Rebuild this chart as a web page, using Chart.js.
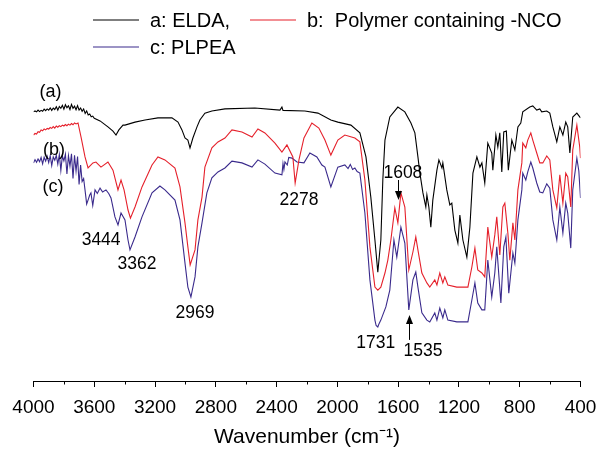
<!DOCTYPE html>
<html><head><meta charset="utf-8">
<script src="https://cdn.jsdelivr.net/npm/chart.js@4/dist/chart.umd.min.js"></script>
<style>html,body{margin:0;padding:0;background:#fff;}</style>
</head><body>
<canvas id="c" width="599" height="453"></canvas>
<script>
// ---- data (wavenumber cm-1, offset transmittance a.u.) ----
const waveA = [4000,3990,3980,3970,3960,3950,3940,3930,3920,3910,3900,3890,3880,3870,3860,3850,3840,3830,3820,3810,3800,3790,3780,3770,3760,3750,3740,3730,3720,3710,3700,3690,3680,3670,3660,3650,3640,3630,3620,3610,3600,
3562,3510,3477,3457,3438,3411,3398,3332,3266,3181,3089,3049,3023,3003,2984,2970,2951,2924,2905,2872,2826,2740,2543,2378,2365,2358,2214,2128,2043,1997,1911,1852,1812,1780,1753,1734,1714,1701,1687,1655,1602,1556,1516,1490,1470,1457,1437,1418,1411,1398,1385,1372,1345,1332,1312,1306,1280,1260,1247,1227,1207,1194,1174,1148,1128,1108,1082,1062,1049,1030,1010,984,977,957,944,931,918,905,888,875,852,832,812,793,780,734,714,688,668,655,622,602,582,556,536,516,497,484,470,451,424,400];
const transA = [89.7,90.0,89.7,90.3,89.8,90.2,89.9,90.6,90.1,90.7,90.3,91.0,90.2,91.0,90.5,91.4,90.3,91.5,90.9,91.9,90.6,92.1,91.1,91.7,90.5,92.2,90.9,91.6,90.4,91.8,90.3,91.0,89.9,90.7,89.2,90.0,88.7,89.0,88.1,88.3,87.6,
86.7,84.7,83.3,82.0,83.7,85.3,85.3,86.3,87.0,87.7,87.7,86.3,83.7,81.0,80.3,77.7,81.0,84.7,87.0,89.3,90.0,90.7,91.0,90.3,91.3,90.2,90.0,89.3,87.0,86.3,85.3,82.7,74.7,61.3,47.0,36.3,47.0,67.0,80.3,88.0,91.3,89.7,86.0,82.7,74.7,69.3,62.7,58.0,62.0,58.0,51.3,60.3,70.3,73.7,71.0,72.7,63.7,58.7,59.3,50.3,46.0,55.3,47.0,41.3,51.3,69.3,74.7,71.3,72.7,66.0,79.3,76.0,70.3,82.0,78.0,82.7,69.7,83.0,83.3,70.3,80.3,77.0,84.7,86.0,89.7,91.3,91.7,90.3,90.7,89.7,90.0,89.3,84.7,79.7,84.7,82.0,86.3,84.7,76.0,88.0,89.3,87.7];

const waveB = [4000,3990,3980,3970,3960,3950,3940,3930,3920,3910,3900,3890,3880,3870,3860,3850,3840,3830,3820,3810,3800,3790,3780,3770,3760,3750,3740,3730,3720,3707,3687,3661,3641,3609,3589,3556,3510,3477,3444,3424,3404,3378,3362,3332,3286,3220,3181,3135,3069,3036,3003,2984,2969,2937,2918,2891,2872,2826,2786,2740,2694,2628,2562,2523,2477,2411,2365,2332,2293,2278,2253,2220,2168,2122,2082,2043,1997,1951,1885,1852,1819,1786,1753,1734,1714,1687,1668,1648,1622,1602,1582,1556,1530,1503,1484,1470,1444,1411,1392,1359,1345,1326,1306,1293,1273,1214,1141,1115,1095,1076,1049,1030,1010,984,964,951,931,911,898,878,865,845,832,812,786,780,760,747,727,714,688,668,648,622,602,582,556,536,516,497,484,464,451,424,405,400];
const transB = [82.0,82.5,82.3,83.1,82.9,83.7,83.4,84.0,83.7,84.2,84.0,84.5,84.2,84.8,84.3,85.0,84.6,85.1,84.8,85.3,85.0,85.5,85.1,85.6,85.3,85.8,85.4,86.0,85.7,86.0,81.3,74.7,71.0,72.7,73.0,71.3,73.0,70.3,63.7,67.0,63.7,57.0,54.3,58.0,64.7,72.0,74.7,73.7,71.0,64.7,52.7,44.7,38.7,43.7,53.7,61.3,71.3,77.7,79.7,81.0,83.7,83.0,81.3,84.0,82.7,79.3,76.3,78.7,74.7,66.0,73.7,81.0,86.0,84.3,80.3,75.3,80.3,82.0,81.0,79.7,67.0,44.7,31.3,30.3,31.3,36.0,40.3,47.0,57.7,52.7,62.7,58.0,37.0,43.0,48.0,43.7,36.0,32.7,31.3,33.7,32.0,36.0,32.7,34.7,32.0,31.3,31.3,38.0,44.3,37.0,36.0,34.7,51.3,41.3,48.7,54.7,42.0,58.0,59.3,49.3,40.3,52.7,47.0,63.7,72.7,79.3,77.7,80.3,82.7,80.3,76.0,72.7,72.7,75.0,73.7,63.7,57.7,68.7,59.3,69.3,68.0,58.0,77.0,85.3,78.0,74.3];

const waveC = [4000,3990,3980,3970,3960,3950,3940,3930,3920,3910,3900,3890,3880,3870,3860,3850,3840,3830,3820,3810,3800,3790,3780,3770,3760,3750,3740,3730,3720,3710,3700,3690,3680,3670,3661,3650,3641,3630,3622,3610,3595,3580,3562,3545,3523,3505,3490,3464,3444,3424,3398,3378,3365,3332,3286,3220,3168,3135,3069,3036,3003,2984,2964,2937,2918,2891,2859,2826,2786,2740,2694,2628,2562,2523,2477,2411,2365,2358,2352,2345,2330,2320,2299,2266,2220,2181,2135,2102,2082,2043,1997,1951,1930,1915,1900,1885,1870,1852,1819,1786,1753,1745,1734,1725,1714,1681,1655,1628,1609,1582,1556,1530,1503,1484,1470,1444,1411,1392,1359,1345,1326,1306,1293,1273,1214,1141,1115,1095,1076,1049,1030,1010,984,964,951,924,905,891,872,845,832,812,786,780,760,747,727,714,688,668,648,622,602,582,556,536,516,497,484,464,451,424,411,400];
const transC = [72.7,73.8,72.9,74.0,73.1,74.5,72.4,74.6,73.3,74.9,72.8,75.1,71.8,74.7,73.6,75.2,72.3,75.5,70.2,75.0,73.4,75.6,69.0,75.1,71.6,75.7,67.5,75.2,70.0,74.8,65.5,72.0,66.5,67.5,63.7,59.0,60.3,62.0,62.7,58.5,63.7,62.5,64.3,63.0,63.7,62.5,61.0,54.7,52.0,56.0,53.7,47.0,43.7,48.0,54.7,62.7,65.0,63.7,60.3,53.7,39.3,31.3,28.0,34.7,44.7,52.7,62.7,67.7,69.7,71.0,73.3,72.7,71.3,73.7,72.3,69.3,68.7,72.5,70.5,73.0,72.0,74.5,74.3,73.0,72.7,76.0,74.7,72.0,71.3,64.7,71.3,72.0,70.8,72.2,70.5,71.0,69.8,69.3,56.0,33.7,20.3,18.5,18.0,19.2,20.3,24.7,30.3,47.0,41.3,51.3,46.0,23.7,33.7,36.3,31.3,22.7,20.3,19.7,22.7,20.3,24.3,21.0,23.7,20.3,19.7,19.7,27.0,32.7,26.0,23.7,23.7,40.3,28.0,36.0,44.7,26.0,44.7,48.0,29.3,42.7,39.3,53.7,63.7,69.3,67.0,69.7,73.0,71.0,66.0,63.0,62.7,65.7,64.3,53.7,47.0,58.0,49.3,59.3,56.0,44.3,63.7,74.3,70.0,61.0];

const seriesLabels = ['a: ELDA,', 'b:  Polymer containing -NCO', 'c: PLPEA'];
const curveTags = ['(a)', '(b)', '(c)'];
const majorTicks = [4000,3600,3200,2800,2400,2000,1600,1200,800,400];
const minorTicks = [3800,3400,3000,2600,2200,1800,1400,1000,600];
const peakTexts = ['3444','3362','2969','2278','1608','1731','1535'];

// annotation placement (data coordinates)
const peakPos = [[3555,47.0],[3319,39.0],[2937,22.7],[2253,60.3],[1569,69.3],[1747,12.7],[1437,10.0]];
const tagPos = [[3888,96.3],[3865,77.0],[3872,64.7]];
const arrows = [{w:1602, from:67.0, to:60.3},{w:1530, from:13.7, to:22.0}];

const FONT = '"Liberation Sans", Arial, Helvetica, sans-serif';
const colors = ['#000000', '#e5202b', '#3a2a8c'];

function pts(w, t){ return w.map((v,i)=>({x:v, y:t[i]})); }

const annotPlugin = {
  id: 'annot',
  afterDraw(chart){
    const {ctx} = chart; const x = chart.scales.x, y = chart.scales.y;
    ctx.save();
    ctx.strokeStyle = '#000'; ctx.lineWidth = 1;
    minorTicks.forEach(v=>{
      const px = Math.round(x.getPixelForValue(v)) + 0.5;
      ctx.beginPath(); ctx.moveTo(px, y.bottom); ctx.lineTo(px, y.bottom + 3.5); ctx.stroke();
    });
    ctx.fillStyle = '#000';
    ctx.textAlign = 'center'; ctx.textBaseline = 'middle';
    ctx.font = '17.5px ' + FONT;
    peakTexts.forEach((t,i)=> ctx.fillText(t, x.getPixelForValue(peakPos[i][0]), y.getPixelForValue(peakPos[i][1])));
    ctx.font = '18px ' + FONT;
    curveTags.forEach((t,i)=> ctx.fillText(t, x.getPixelForValue(tagPos[i][0]), y.getPixelForValue(tagPos[i][1])));
    arrows.forEach(a=>{
      const px = Math.round(x.getPixelForValue(a.w)) + 0.5;
      const y1 = y.getPixelForValue(a.from), y2 = y.getPixelForValue(a.to);
      const dir = y2 > y1 ? 1 : -1;
      ctx.beginPath(); ctx.moveTo(px, y1); ctx.lineTo(px, y2 - dir*7); ctx.stroke();
      ctx.beginPath(); ctx.moveTo(px, y2); ctx.lineTo(px - 3.5, y2 - dir*9); ctx.lineTo(px + 3.5, y2 - dir*9); ctx.closePath(); ctx.fill();
    });
    const ds = chart.data.datasets;
    const legendItems = [[93,20],[250,20],[93,47]];
    ctx.font = '20px ' + FONT; ctx.textAlign = 'left';
    ds.forEach((d,i)=>{
      const [lx, ly] = legendItems[i];
      ctx.strokeStyle = d.borderColor; ctx.lineWidth = 1.2;
      ctx.beginPath(); ctx.moveTo(lx, ly); ctx.lineTo(lx + 46, ly); ctx.stroke();
      ctx.fillStyle = '#000';
      ctx.fillText(d.label, lx + 57, ly + 1);
    });
    ctx.restore();
  }
};

new Chart(document.getElementById('c'), {
  type: 'line',
  data: {
    datasets: [
      {label: seriesLabels[0], data: pts(waveA, transA), borderColor: colors[0]},
      {label: seriesLabels[1], data: pts(waveB, transB), borderColor: colors[1]},
      {label: seriesLabels[2], data: pts(waveC, transC), borderColor: colors[2]}
    ].map(d=>Object.assign(d, {borderWidth: 1.1, pointRadius: 0, tension: 0, fill: false}))
  },
  options: {
    responsive: false, animation: false, devicePixelRatio: 1,
    layout: {padding: {left: 33.5, right: 18.5, top: 81, bottom: 0}},
    plugins: {legend: {display: false}, tooltip: {enabled: false}},
    scales: {
      x: {
        type: 'linear', min: 400, max: 4000, reverse: true, position: 'bottom',
        afterFit(s){ s.height = 72; s.paddingLeft = 0; s.paddingRight = 0; },
        afterBuildTicks(s){ s.ticks = majorTicks.map(v=>({value: v})); },
        ticks: {color: '#000', font: {family: FONT, size: 19}, padding: 9, maxRotation: 0, autoSkip: false, callback: v => String(v)},
        grid: {drawOnChartArea: false, drawTicks: true, tickLength: 6, color: '#000', lineWidth: 1},
        border: {display: true, color: '#000', width: 1},
        title: {display: true, text: 'Wavenumber (cm\u207B\u00B9)', color: '#000', font: {family: FONT, size: 21}, padding: {top: 0, bottom: 3}}
      },
      y: {type: 'linear', min: 0, max: 100, display: false}
    }
  },
  plugins: [annotPlugin]
});
</script>
</body></html>
